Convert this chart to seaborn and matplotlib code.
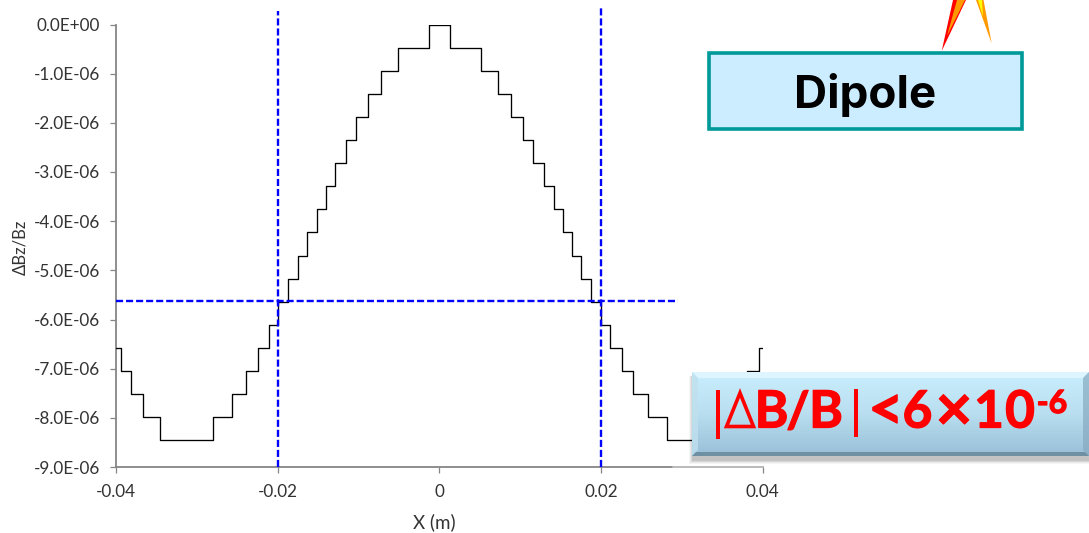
import numpy as np
import pandas as pd
import matplotlib
matplotlib.use("Agg")
import matplotlib.pyplot as plt
import matplotlib.patheffects as pe
from matplotlib.colors import LinearSegmentedColormap
from matplotlib.patches import Polygon, Rectangle
import seaborn as sns

# ---------- data ----------
step_x = [-0.04, -0.0394, -0.03815, -0.03666, -0.03456, -0.028, -0.02568, -0.02388, -0.02247,
          -0.02107, -0.01995, -0.01872, -0.01748, -0.01637, -0.01517, -0.01405, -0.0129,
          -0.01158, -0.0103, -0.00878, -0.00721, -0.00514, -0.00127, 0.00137, 0.00517,
          0.00727, 0.00888, 0.01036, 0.01164, 0.01296, 0.0142, 0.01528, 0.01646, 0.01758,
          0.01882, 0.01998, 0.02117, 0.02262, 0.02401, 0.0258, 0.02815, 0.0345, 0.0366,
          0.03806, 0.03953, 0.04]
step_y_e6 = [-6.58, -7.05, -7.52, -7.99, -8.46, -7.99, -7.52, -7.05, -6.58,
             -6.11, -5.64, -5.17, -4.70, -4.23, -3.76, -3.29, -2.82,
             -2.35, -1.88, -1.41, -0.94, -0.47, 0.0, -0.47, -0.94,
             -1.41, -1.88, -2.35, -2.82, -3.29, -3.76, -4.23, -4.70, -5.17,
             -5.64, -6.11, -6.58, -7.05, -7.52, -7.99, -8.46, -7.99, -7.52,
             -7.05, -6.58, -6.58]
guide_v_x = [-0.02, 0.02]
guide_v_top_e6 = [0.27, 0.33]
guide_h_y_e6 = -5.62
guide_h_x = [-0.04, 0.0296]
x_ticks = [-0.04, -0.02, 0, 0.02, 0.04]
x_tick_labels = ["-0.04", "-0.02", "0", "0.02", "0.04"]
y_ticks_e6 = [0, -1, -2, -3, -4, -5, -6, -7, -8, -9]
y_tick_labels = ["0.0E+00", "-1.0E-06", "-2.0E-06", "-3.0E-06", "-4.0E-06",
                 "-5.0E-06", "-6.0E-06", "-7.0E-06", "-8.0E-06", "-9.0E-06"]
x_label = "X (m)"
y_label = "ΔBz/Bz"
dipole_label = "Dipole"

W, H = 1089, 533
sns.set_theme(style="white")
plt.rcParams["font.family"] = ["Lato", "DejaVu Sans"]
GREY = "#868686"
TXT = "#333333"

fig = plt.figure(figsize=(W / 100, H / 100), dpi=100, facecolor="white")
ax = fig.add_axes([116 / W, 1 - 467 / H, (762.5 - 116) / W, (467 - 24.5) / H])

df = pd.DataFrame({"x": step_x, "y": np.array(step_y_e6) * 1e-6})
sns.lineplot(data=df, x="x", y="y", ax=ax, color="black", linewidth=0.95,
             drawstyle="steps-post", estimator=None, sort=False, errorbar=None, zorder=3)

ax.set_xlim(-0.04, 0.04)
ax.set_ylim(-9e-6, 0)
ax.set_xticks(x_ticks)
ax.set_xticklabels(x_tick_labels, fontsize=12.3, color=TXT)
ax.set_yticks(np.array(y_ticks_e6) * 1e-6)
ax.set_yticklabels(y_tick_labels, fontsize=12.3, color=TXT)
ax.tick_params(axis="both", direction="out", length=4.3, width=0.9, color=GREY,
               bottom=True, left=True, pad=7)
ax.tick_params(axis="x", pad=8)
for s in ("top", "right"):
    ax.spines[s].set_visible(False)
for s in ("left", "bottom"):
    ax.spines[s].set_color(GREY)
    ax.spines[s].set_linewidth(1.3)
ax.set_xlabel("")
ax.set_ylabel("")
fig.text(434 / W, 1 - 522 / H, x_label, ha="center", va="center", fontsize=13.5, color=TXT)
fig.text(20.5 / W, 1 - 247 / H, y_label, ha="center", va="center", rotation=90, fontsize=12, color=TXT)

# guides
dash = dict(color="#0000ff", linewidth=1.7, dashes=(3.0, 1.25), clip_on=False, zorder=4)
for gx, gt in zip(guide_v_x, guide_v_top_e6):
    ax.plot([gx, gx], [-9e-6, gt * 1e-6], **dash)
ax.plot(guide_h_x, [guide_h_y_e6 * 1e-6] * 2, **dash)

# lighter right part of the x axis
ax.plot([0.0289, 0.04], [-9e-6, -9e-6], color="#bdbdbd", lw=1.4, clip_on=False, zorder=5)

# ---------- annotation overlay in pixel space ----------
ov = fig.add_axes([0, 0, 1, 1], zorder=10, facecolor="none")
ov.axis("off")

# flames
ov.add_patch(Polygon([(941.7, 51), (953, 0), (966, 0)], fc="#ff0000", ec="none"))
ov.add_patch(Polygon([(947, 36), (957, 0), (965, 0)], fc="#ff9900", ec="none"))
ov.add_patch(Polygon([(991.7, 43.5), (976, 0), (983.5, 0)], fc="#ff9900", ec="none"))
ov.add_patch(Polygon([(983, 17), (978, 0), (982, 0)], fc="#ffff00", ec="none"))

# Dipole box
ov.add_patch(Rectangle((708.5, 52.5), 313, 76, fc="#ccecff", ec="#009999", lw=2.6, joinstyle="miter"))
ov.text(865, 108, dipole_label, ha="center", va="baseline", fontsize=33, weight="bold",
        color="black", family=["Inter", "DejaVu Sans"])

# blue bevelled box
L, T, R, B = 692, 372, 1089, 456
for i, a in enumerate([0.04, 0.05, 0.07, 0.09]):
    ov.add_patch(Rectangle((L - 3 + i, T + 4), R - L + 6, B - T + 4 - i, fc="black", ec="none", alpha=a))
cmap = LinearSegmentedColormap.from_list("b", ["#c9efff", "#b8deef", "#98bfd8"])
ov.imshow(np.linspace(0, 1, 128).reshape(-1, 1), extent=(L, R, B, T), cmap=cmap, aspect="auto", zorder=1,
          interpolation="bilinear")
b = 6
ov.add_patch(Polygon([(L, T), (R, T), (R - b, T + b), (L + b, T + b)], fc="#e2f8ff", ec="none", alpha=.8, zorder=1.5))
ov.add_patch(Polygon([(L, T), (L + b, T + b), (L + b, B - b), (L, B)], fc="#bfe0ee", ec="none", alpha=.8, zorder=1.5))
ov.add_patch(Polygon([(R, T), (R - b, T + b), (R - b, B - b), (R, B)], fc="#86a9bf", ec="none", alpha=.7, zorder=1.5))
ov.add_patch(Polygon([(L, B), (L + 4, B - 4), (R - 4, B - 4), (R, B)], fc="#6b8a9e", ec="none", alpha=.9, zorder=1.5))

red = dict(color="#ff0000", va="baseline", ha="center", zorder=3,
           path_effects=[pe.SimpleLineShadow(offset=(1, -1), shadow_color="#4a6a80", alpha=0.4),
                         pe.Stroke(linewidth=0.9, foreground="#ff0000"), pe.Normal()])
base = 427.5
for txt, cx, fs in [("B", 771.5, 37), ("/", 798, 36), ("B", 826, 37), ("6", 917.5, 37),
                    ("1", 989, 37), ("0", 1020, 37)]:
    ov.text(cx, base, txt, fontsize=fs, weight="bold", **red)
ov.text(886, base + 2, "<", fontsize=44, weight="bold", **red)
ov.text(954, 425, "×", fontsize=36, weight="bold", family=["DejaVu Sans"], **red)
ov.text(1052, 413, "-6", fontsize=23, weight="bold", **red)
for bx, y0, y1 in [(718, 390, 439), (855.7, 389, 437)]:
    ov.add_patch(Rectangle((bx - 2.2, y0), 4.4, y1 - y0, fc="#ff0000", ec="none", zorder=3))
ov.add_patch(Polygon([(726.5, 426.5), (740, 393), (753.5, 426.5)], closed=True, fc="none", ec="#ff0000", lw=2.6,
                     joinstyle="miter", zorder=3))

ov.set_xlim(0, W)
ov.set_ylim(H, 0)

fig.savefig("out.png", dpi=100, facecolor="white")
